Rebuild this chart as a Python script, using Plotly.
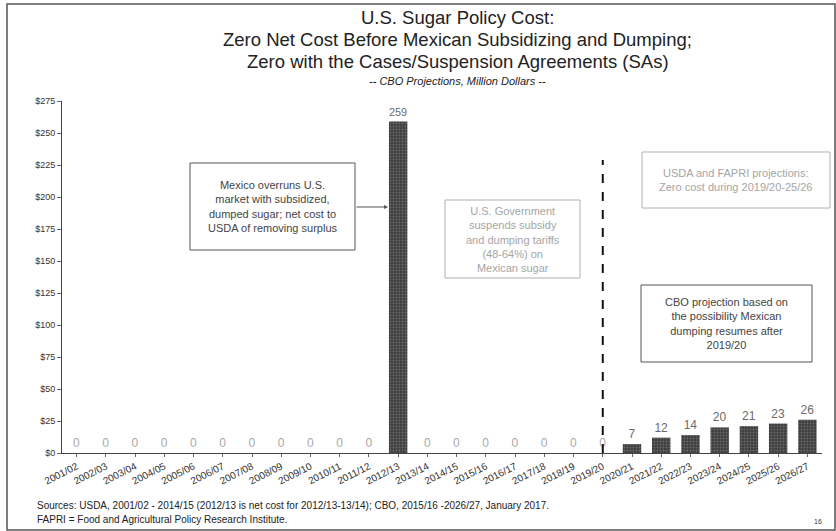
# Import python dependencies
import plotly.graph_objects as go

# Crop years on the x axis
years = [
    "2001/02", "2002/03", "2003/04", "2004/05", "2005/06", "2006/07", "2007/08",
    "2008/09", "2009/10", "2010/11", "2011/12", "2012/13", "2013/14", "2014/15",
    "2015/16", "2016/17", "2017/18", "2018/19", "2019/20", "2020/21", "2021/22",
    "2022/23", "2023/24", "2024/25", "2025/26", "2026/27",
]

# Net cost, million dollars
cost = [0, 0, 0, 0, 0, 0, 0, 0, 0, 0, 0, 259, 0, 0, 0, 0, 0, 0, 0,
        7, 12, 14, 20, 21, 23, 26]

# Y axis ticks
y_ticks = [0, 25, 50, 75, 100, 125, 150, 175, 200, 225, 250, 275]

FONT = "Liberation Sans, Arial, sans-serif"

# Plot area in pixels: x 62..822, y 101..453
def px(x):
    return (x - 62) / 760

def py(y):
    return (453 - y) / 352

label_colors = ["#a8a8a8" if v == 0 else "#6a6a6a" for v in cost]

fig = go.Figure()
fig.add_trace(go.Bar(
    x=years,
    y=cost,
    width=0.63,
    marker=dict(
        color="#3e3e3e",
        line=dict(width=0),
        pattern=dict(shape=".", fgcolor="#9a9a9a", size=3, solidity=0.3),
    ),
    text=[str(v) for v in cost],
    textposition="outside",
    textfont=dict(family=FONT, size=12, color=label_colors),
    cliponaxis=False,
    hoverinfo="skip",
))

fig.update_layout(
    width=836,
    height=531,
    margin=dict(l=62, r=14, t=101, b=78),
    paper_bgcolor="white",
    plot_bgcolor="white",
    showlegend=False,
    font=dict(family=FONT, color="#333333"),
    xaxis=dict(
        type="category",
        range=[-0.5, 25.5],
        tickangle=-27,
        tickfont=dict(size=10, color="#333333"),
        showline=True,
        linecolor="#444444",
        linewidth=1,
        ticks="outside",
        ticklen=3,
        tickcolor="#666666",
        showgrid=False,
    ),
    yaxis=dict(
        range=[0, 275],
        tickvals=y_ticks,
        ticktext=["$" + str(v) for v in y_ticks],
        tickfont=dict(size=9, color="#333333"),
        showline=True,
        linecolor="#444444",
        linewidth=1,
        ticks="outside",
        ticklen=4,
        tickcolor="#666666",
        showgrid=False,
        zeroline=False,
    ),
)

# Title lines
titles = [
    ("U.S. Sugar Policy Cost:", 17, 18.5),
    ("Zero Net Cost Before Mexican Subsidizing and Dumping;", 40, 18.5),
    ("Zero with the Cases/Suspension Agreements (SAs)", 62, 18.5),
    ("<i>-- CBO Projections, Million Dollars --</i>", 81, 11),
]
for text, y, size in titles:
    fig.add_annotation(
        text=text, xref="paper", yref="paper", x=px(458), y=py(y),
        xanchor="center", yanchor="middle", showarrow=False,
        font=dict(family=FONT, size=size, color="#222222"),
    )

# Text boxes: (text, x0, y0, x1, y1, dark)
boxes = [
    ("Mexico overruns U.S.<br>market with subsidized,<br>dumped sugar; net cost to<br>USDA of removing surplus",
     190, 163, 355, 250, True),
    ("U.S. Government<br>suspends subsidy<br>and dumping tariffs<br>(48-64%) on<br>Mexican sugar",
     445, 200, 580, 278, False),
    ("USDA and FAPRI projections:<br>Zero cost during 2019/20-25/26",
     642, 152, 830, 208, False),
    ("CBO projection based on<br>the possibility Mexican<br>dumping resumes after<br>2019/20",
     641, 285, 812, 362, True),
]
for text, x0, y0, x1, y1, dark in boxes:
    color = "#444444" if dark else "#a5a5a5"
    fig.add_shape(
        type="rect", xref="paper", yref="paper",
        x0=px(x0), x1=px(x1), y0=py(y1), y1=py(y0),
        line=dict(color="#555555" if dark else "#b0b0b0", width=1),
        fillcolor="white",
    )
    fig.add_annotation(
        text=text, xref="paper", yref="paper",
        x=px((x0 + x1) / 2), y=py((y0 + y1) / 2),
        xanchor="center", yanchor="middle", showarrow=False,
        font=dict(family=FONT, size=11, color=color),
    )

# Arrow from first box to the 2012/13 bar
fig.add_annotation(
    text="", xref="paper", yref="paper", x=px(388), y=py(207),
    ax=-33, ay=0, showarrow=True, arrowhead=2, arrowsize=0.8,
    arrowwidth=1, arrowcolor="#555555",
)

# Dashed divider at 2019/20
fig.add_shape(
    type="line", xref="x", yref="paper", x0="2019/20", x1="2019/20",
    y0=0, y1=py(160), line=dict(color="#111111", width=2, dash="dash"),
)

# Outer frame
fig.add_shape(
    type="rect", xref="paper", yref="paper",
    x0=px(7), x1=px(835), y0=py(530), y1=py(4),
    line=dict(color="#555555", width=1.5),
)

# Footnotes
fig.add_annotation(
    text="Sources: USDA, 2001/02 - 2014/15 (2012/13 is net cost for 2012/13-13/14); CBO, 2015/16 -2026/27, January 2017.",
    xref="paper", yref="paper", x=px(35), y=py(505), xanchor="left", yanchor="middle",
    showarrow=False, font=dict(family=FONT, size=10, color="#222222"),
)
fig.add_annotation(
    text="FAPRI = Food and Agricultural Policy Research Institute.",
    xref="paper", yref="paper", x=px(35), y=py(519), xanchor="left", yanchor="middle",
    showarrow=False, font=dict(family=FONT, size=10, color="#222222"),
)
fig.add_annotation(
    text="16", xref="paper", yref="paper", x=px(818), y=py(521),
    xanchor="center", yanchor="middle", showarrow=False,
    font=dict(family=FONT, size=7, color="#333333"),
)

# Remove the default page margin so the figure sits at the window corner
fig.write_html(
    "out.html",
    config={"displayModeBar": False},
    post_script="document.body.style.margin='0';",
)
